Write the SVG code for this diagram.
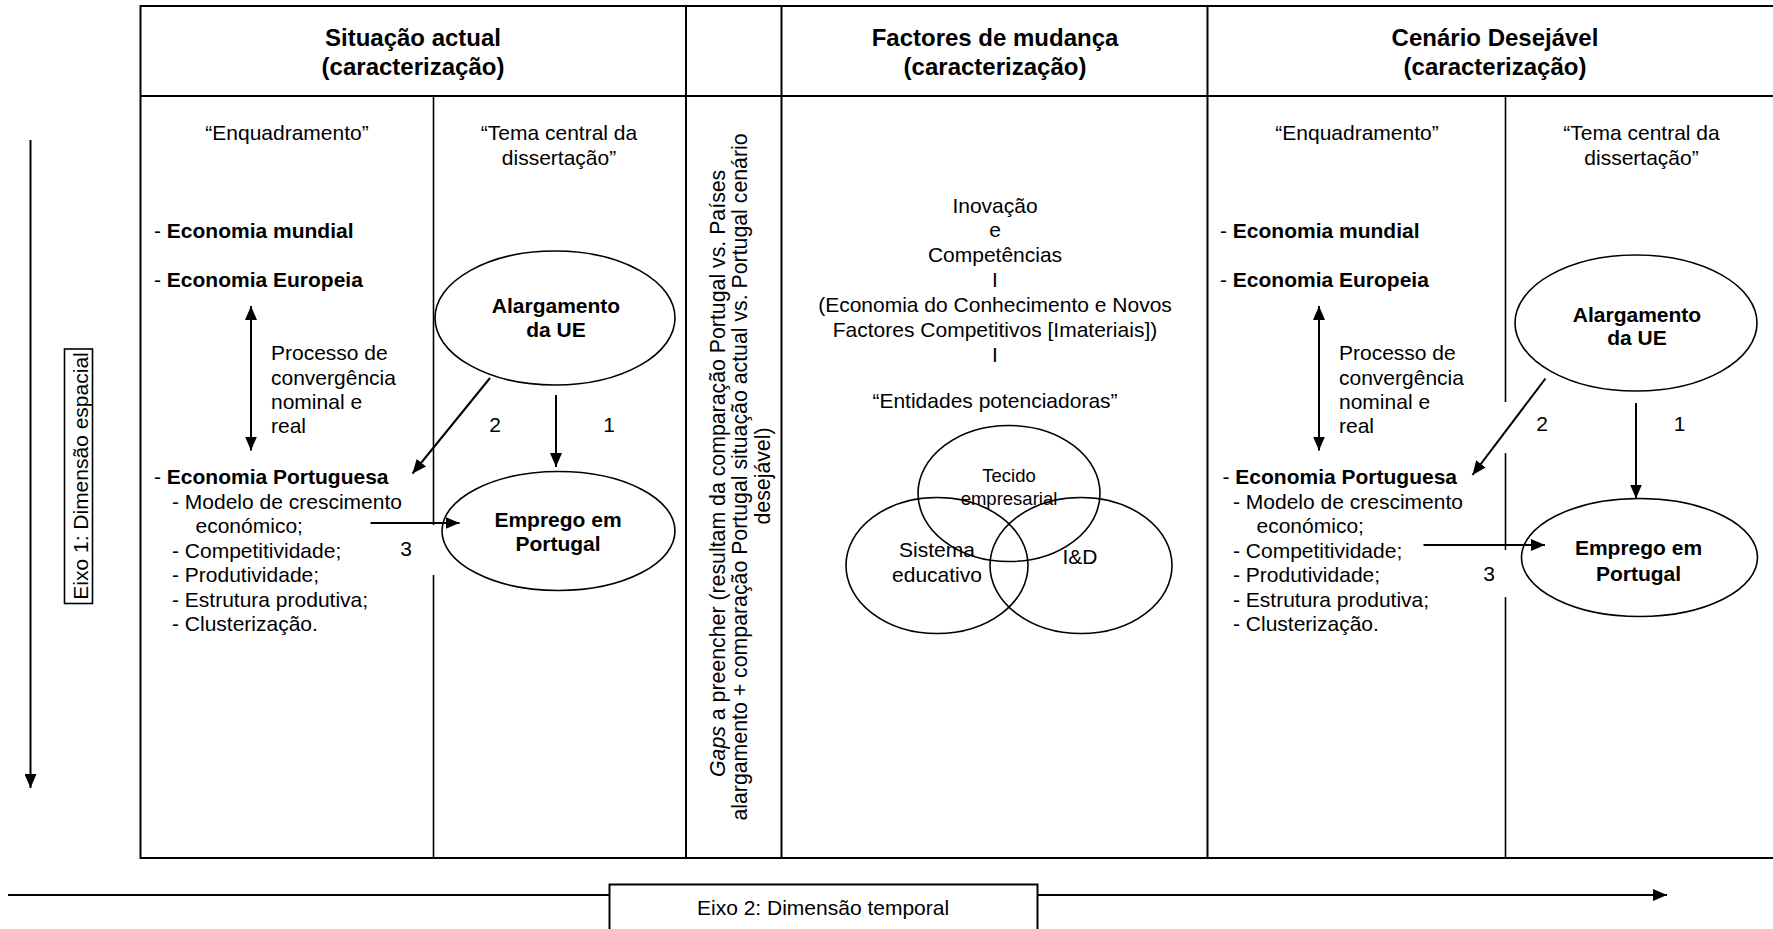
<svg xmlns="http://www.w3.org/2000/svg" width="1773" height="929" viewBox="0 0 1773 929">
<style>
text{font-family:"Liberation Sans",Arial,sans-serif;fill:#000}
.h{font-size:24px;font-weight:bold;text-anchor:middle}
.t{font-size:21px}
.g{font-size:21.3px}
.c{text-anchor:middle}
.b{font-weight:bold}
.ln{stroke:#000;stroke-width:2;fill:none}
.thin{stroke:#000;stroke-width:1.6;fill:none}
.el{stroke:#000;stroke-width:1.6;fill:#fff}
.elo{stroke:#000;stroke-width:1.6;fill:none}
.ar{stroke:#000;stroke-width:2;fill:none;marker-end:url(#ah)}
</style>
<defs>
<marker id="ah" viewBox="0 0 14 12" refX="14" refY="6" markerWidth="14" markerHeight="12" markerUnits="userSpaceOnUse" orient="auto-start-reverse">
<path d="M0,0 L14,6 L0,12 z" fill="#000"/>
</marker>
</defs>
<rect width="1773" height="929" fill="#fff"/>

<g id="table">
<rect class="ln" x="140.5" y="6" width="1650" height="852"/>
<line class="ln" x1="140.5" y1="96" x2="1773" y2="96"/>
<line class="ln" x1="686" y1="6" x2="686" y2="858"/>
<line class="ln" x1="781.5" y1="6" x2="781.5" y2="858"/>
<line class="ln" x1="1207.5" y1="6" x2="1207.5" y2="858"/>
<line class="thin" x1="433.5" y1="96" x2="433.5" y2="525"/>
<line class="thin" x1="433.5" y1="575" x2="433.5" y2="858"/>
<line class="thin" x1="1505.5" y1="96" x2="1505.5" y2="402"/>
<line class="thin" x1="1505.5" y1="453" x2="1505.5" y2="550"/>
<line class="thin" x1="1505.5" y1="597" x2="1505.5" y2="858"/>
</g>

<g id="hdr-situacao">
<text class="h" x="413" y="46">Situação actual</text>
<text class="h" x="413" y="75">(caracterização)</text>
</g>
<g id="hdr-factores">
<text class="h" x="995" y="46">Factores de mudança</text>
<text class="h" x="995" y="75">(caracterização)</text>
</g>
<g id="hdr-cenario">
<text class="h" x="1495" y="46">Cenário Desejável</text>
<text class="h" x="1495" y="75">(caracterização)</text>
</g>

<g id="left-enquadramento">
<text class="t c" x="287" y="140">“Enquadramento”</text>
<text class="t" x="154" y="238">- <tspan class="b">Economia mundial</tspan></text>
<text class="t" x="154" y="287">- <tspan class="b">Economia Europeia</tspan></text>
<text class="t" x="271" y="360">Processo de</text>
<text class="t" x="271" y="384.5">convergência</text>
<text class="t" x="271" y="408.5">nominal e</text>
<text class="t" x="271" y="433">real</text>
<text class="t" x="154" y="484">- <tspan class="b">Economia Portuguesa</tspan></text>
<text class="t" x="172" y="508.5">- Modelo de crescimento</text>
<text class="t" x="195.5" y="533">económico;</text>
<text class="t" x="172" y="557.5">- Competitividade;</text>
<text class="t" x="172" y="582">- Produtividade;</text>
<text class="t" x="172" y="606.5">- Estrutura produtiva;</text>
<text class="t" x="172" y="631">- Clusterização.</text>
</g>

<g id="left-tema">
<text class="t c" x="559" y="140">“Tema central da</text>
<text class="t c" x="559" y="165">dissertação”</text>
</g>

<g id="left-alargamento">
<ellipse class="el" cx="555" cy="318" rx="120" ry="67"/>
<text class="t c b" x="556" y="313">Alargamento</text>
<text class="t c b" x="556" y="337">da UE</text>
</g>

<g id="left-emprego">
<ellipse class="el" cx="558.5" cy="531" rx="116.5" ry="59.5"/>
<text class="t c b" x="558" y="526.5">Emprego em</text>
<text class="t c b" x="558" y="550.5">Portugal</text>
</g>

<g id="gaps">
<text class="g" transform="translate(724.5 777) rotate(-90)"><tspan font-style="italic">Gaps</tspan> a preencher (resultam da comparação Portugal vs. Países</text>
<text class="g c" transform="translate(747 477) rotate(-90)">alargamento + comparação Portugal situação actual vs. Portugal cenário</text>
<text class="g c" transform="translate(770 476) rotate(-90)">desejável)</text>
</g>

<g id="factores">
<text class="t c" x="995" y="213">Inovação</text>
<text class="t c" x="995" y="237">e</text>
<text class="t c" x="995" y="262">Competências</text>
<text class="t c" x="995" y="287">I</text>
<text class="t c" x="995" y="312">(Economia do Conhecimento e Novos</text>
<text class="t c" x="995" y="337">Factores Competitivos [Imateriais])</text>
<text class="t c" x="995" y="362">I</text>
<text class="t c" x="995" y="408">“Entidades potenciadoras”</text>
</g>

<g id="venn-tecido">
<ellipse class="elo" cx="1009" cy="493.5" rx="91" ry="68"/>
<text class="c" style="font-size:18.5px" x="1009" y="482">Tecido</text>
<text class="c" style="font-size:18.5px" x="1009" y="504.5">empresarial</text>
</g>
<g id="venn-sistema">
<ellipse class="elo" cx="937" cy="565.5" rx="91" ry="68"/>
<text class="t c" x="937" y="557">Sistema</text>
<text class="t c" x="937" y="581.5">educativo</text>
</g>
<g id="venn-id">
<ellipse class="elo" cx="1081" cy="565.5" rx="91" ry="68"/>
<text class="t c" x="1080" y="563.5">I&amp;D</text>
</g>

<g id="right-enquadramento">
<text class="t c" x="1357" y="140">“Enquadramento”</text>
<text class="t" x="1220" y="238">- <tspan class="b">Economia mundial</tspan></text>
<text class="t" x="1220" y="287">- <tspan class="b">Economia Europeia</tspan></text>
<text class="t" x="1339" y="360">Processo de</text>
<text class="t" x="1339" y="384.5">convergência</text>
<text class="t" x="1339" y="408.5">nominal e</text>
<text class="t" x="1339" y="433">real</text>
<text class="t" x="1222.5" y="484">- <tspan class="b">Economia Portuguesa</tspan></text>
<text class="t" x="1233" y="508.5">- Modelo de crescimento</text>
<text class="t" x="1256.5" y="533">económico;</text>
<text class="t" x="1233" y="557.5">- Competitividade;</text>
<text class="t" x="1233" y="582">- Produtividade;</text>
<text class="t" x="1233" y="606.5">- Estrutura produtiva;</text>
<text class="t" x="1233" y="631">- Clusterização.</text>
</g>

<g id="right-tema">
<text class="t c" x="1641.5" y="140">“Tema central da</text>
<text class="t c" x="1641.5" y="165">dissertação”</text>
</g>

<g id="right-alargamento">
<ellipse class="el" cx="1636" cy="323" rx="121" ry="68"/>
<text class="t c b" x="1637" y="321.5">Alargamento</text>
<text class="t c b" x="1637" y="345">da UE</text>
</g>

<g id="right-emprego">
<ellipse class="el" cx="1639.5" cy="557.5" rx="118" ry="59"/>
<text class="t c b" x="1638.5" y="555">Emprego em</text>
<text class="t c b" x="1638.5" y="580.5">Portugal</text>
</g>

<g id="connectors">
<line class="ar" x1="251" y1="306" x2="251" y2="450.5" style="marker-start:url(#ah)"/>
<line class="ar" x1="490" y1="378" x2="412.5" y2="473.5"/>
<line class="ar" x1="556" y1="395" x2="556" y2="467"/>
<line class="ar" x1="370.5" y1="523" x2="459.5" y2="523"/>
<line class="ar" x1="1319" y1="306" x2="1319" y2="450.5" style="marker-start:url(#ah)"/>
<line class="ar" x1="1545.5" y1="378.5" x2="1472.5" y2="475"/>
<line class="ar" x1="1636" y1="403" x2="1636" y2="498.5"/>
<line class="ar" x1="1423.5" y1="545" x2="1545" y2="545"/>
<line class="ar" x1="30.5" y1="140" x2="30.5" y2="788"/>
<line class="ar" x1="8" y1="895" x2="1667" y2="895"/>
</g>

<g id="labels">
<text class="t c" x="495" y="432">2</text>
<text class="t c" x="609" y="432">1</text>
<text class="t c" x="406" y="555.5">3</text>
<text class="t c" x="1542" y="431">2</text>
<text class="t c" x="1679.5" y="431">1</text>
<text class="t c" x="1489" y="580.5">3</text>
</g>

<g id="eixo1">
<rect x="64.5" y="349" width="28" height="254.5" fill="#fff" stroke="#000" stroke-width="1.6"/>
<text class="t c" transform="translate(88 476) rotate(-90)">Eixo 1: Dimensão espacial</text>
</g>

<g id="eixo2">
<rect x="609.5" y="884.5" width="428" height="60" fill="#fff" stroke="#000" stroke-width="2"/>
<text class="t" x="697" y="915">Eixo 2: Dimensão temporal</text>
</g>
</svg>
